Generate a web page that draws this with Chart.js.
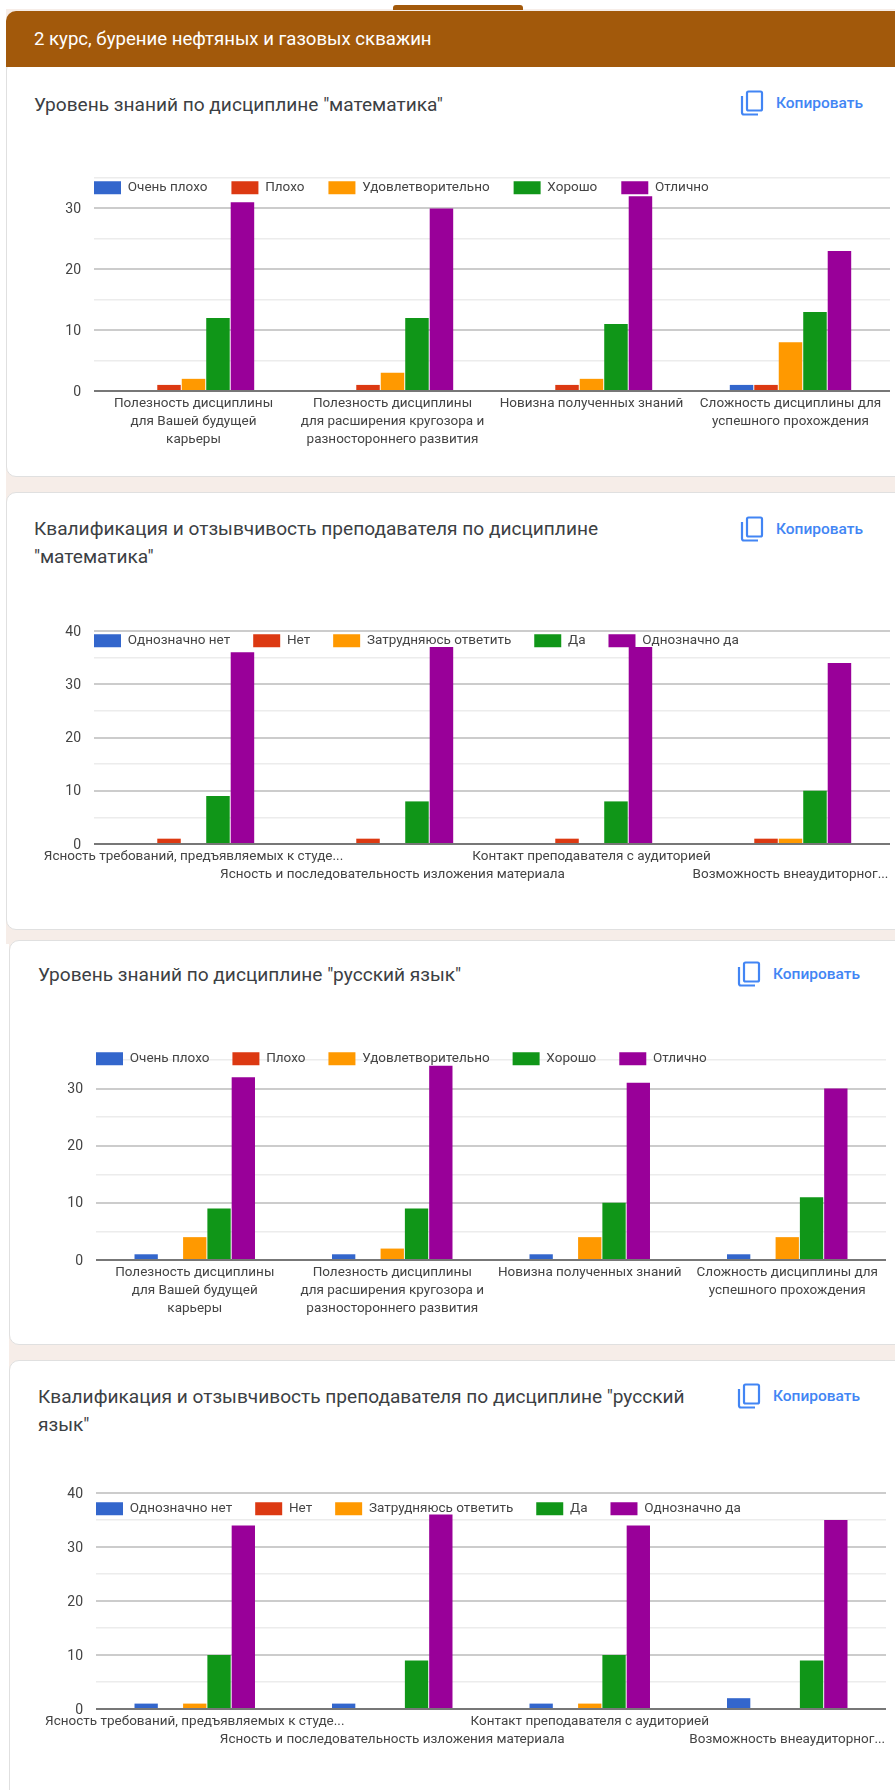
<!DOCTYPE html>
<html lang="ru">
<head>
<meta charset="utf-8">
<title>2 курс, бурение нефтяных и газовых скважин</title>
<script src="https://cdn.jsdelivr.net/npm/chart.js@4"></script>
<style>
  html, body { margin: 0; padding: 0; background: #fff; }
  #page { position: relative; width: 895px; height: 1790px; overflow: hidden; font-family: Roboto, sans-serif; }
  .bg { position: absolute; right: 0; background: #f6ede8; }
  .tab { position: absolute; left: 393px; top: 5px; width: 130px; height: 5px; background: #a2590b; border-radius: 3px 3px 0 0; }
  .card { position: absolute; right: -10px; background: #fff; border: 1px solid #e0e0e0; border-radius: 10px; box-sizing: border-box; }
  .head { position: absolute; left: 6px; right: 0; top: 11px; height: 56px; background: #a2590b; border-radius: 10px 0 0 0;
          color: #fff; font-size: 18.6px; line-height: 56px; padding-left: 28px; }
  .title { position: absolute; font-size: 19.1px; line-height: 28px; color: #3c4043; width: 700px; }
  .copy { position: absolute; color: #4285f4; font-size: 15.5px; font-weight: 500; line-height: 26px; padding-left: 36px; }
  .copy svg { position: absolute; left: 0; top: 0; }
  canvas { position: absolute; left: 0; }
</style>
</head>
<body>
<div id="page">
  <div class="bg" style="left:6px;top:9px;height:935px"></div>
  <div class="bg" style="left:9px;top:935px;height:855px"></div>
  <div class="tab"></div>
  <div class="card" style="left:6px;top:60px;height:417px"></div>
  <div class="card" style="left:6px;top:492px;height:438px"></div>
  <div class="card" style="left:9px;top:940px;height:405px"></div>
  <div class="card" style="left:9px;top:1360px;height:460px"></div>
  <div class="head">2 курс, бурение нефтяных и газовых скважин</div>
  <div id="overlay"></div>
  <canvas id="chart1"></canvas>
  <canvas id="chart2"></canvas>
  <canvas id="chart3"></canvas>
  <canvas id="chart4"></canvas>
</div>
<script>
const seriesColors = ['#3366cc', '#dc3912', '#ff9900', '#109618', '#990099'];

const knowledgeLegend = ['Очень плохо', 'Плохо', 'Удовлетворительно', 'Хорошо', 'Отлично'];
const teacherLegend = ['Однозначно нет', 'Нет', 'Затрудняюсь ответить', 'Да', 'Однозначно да'];

const knowledgeLabels = [
  ['Полезность дисциплины', 'для Вашей будущей', 'карьеры'],
  ['Полезность дисциплины', 'для расширения кругозора и', 'разностороннего развития'],
  'Новизна полученных знаний',
  ['Сложность дисциплины для', 'успешного прохождения']
];
const teacherLabels = [
  ['Ясность требований, предъявляемых к студе...', ''],
  ['', 'Ясность и последовательность изложения материала'],
  ['Контакт преподавателя с аудиторией', ''],
  ['', 'Возможность внеаудиторног...']
];

// one row per answer, one column per question
const mathKnowledge = [
  [0, 0, 0, 1],
  [1, 1, 1, 1],
  [2, 3, 2, 8],
  [12, 12, 11, 13],
  [31, 30, 32, 23]
];
const mathTeacher = [
  [0, 0, 0, 0],
  [1, 1, 1, 1],
  [0, 0, 0, 1],
  [9, 8, 8, 10],
  [36, 37, 37, 34]
];
const russianKnowledge = [
  [1, 1, 1, 1],
  [0, 0, 0, 0],
  [4, 2, 4, 4],
  [9, 9, 10, 11],
  [32, 34, 31, 30]
];
const russianTeacher = [
  [1, 1, 1, 2],
  [0, 0, 0, 0],
  [1, 0, 1, 0],
  [10, 9, 10, 9],
  [34, 36, 34, 35]
];

const CHART_FONT = 'Roboto, sans-serif';

// the legend sits on top of the plot, so it must not take layout space
const overlayLegend = {
  id: 'overlayLegend',
  beforeLayout(chart) {
    const legend = chart.legend;
    if (legend.fitPatched) return;
    const fit = legend.fit;
    legend.fit = function () { fit.call(this); this.height = 0; };
    legend.fitPatched = true;
  },
  afterLayout(chart, args, opts) {
    const legend = chart.legend;
    const pad = chart.options.plugins.legend.labels.padding;
    legend.left = chart.chartArea.left - pad;
    legend.right = chart.width;
    legend.top = chart.chartArea.top + opts.offset - pad;
    legend.height = 60;
    legend.bottom = legend.top + legend.height; // legend clips its drawing to this box
  }
};

function drawChart(id, cfg) {
  const canvas = document.getElementById(id);
  const topGap = 10, xHeight = 70;
  canvas.width = 895;
  canvas.height = cfg.bottom - cfg.top + topGap + xHeight;
  canvas.style.top = (cfg.top - topGap) + 'px';

  return new Chart(canvas, {
    type: 'bar',
    plugins: [overlayLegend],
    data: {
      labels: cfg.labels,
      datasets: cfg.names.map((name, i) => ({
        label: name,
        data: cfg.values[i],
        backgroundColor: seriesColors[i],
        borderWidth: 0,
        barPercentage: 0.96,
        categoryPercentage: 0.615
      }))
    },
    options: {
      responsive: false,
      animation: false,
      layout: { padding: { left: 0, right: 895 - cfg.right, top: topGap, bottom: 0 } },
      plugins: {
        tooltip: { enabled: false },
        overlayLegend: { offset: cfg.legendOffset },
        legend: {
          position: 'top',
          align: 'start',
          labels: {
            boxWidth: 27,
            boxHeight: 13,
            padding: cfg.legendGap || 23,
            color: '#444',
            font: { family: CHART_FONT, size: 13.5 }
          }
        }
      },
      scales: {
        x: {
          offset: true,
          grid: { display: false, drawTicks: false },
          border: { display: false },
          ticks: {
            autoSkip: false,
            maxRotation: 0,
            minRotation: 0,
            padding: 3,
            color: '#444',
            font: { family: CHART_FONT, size: 13.5, lineHeight: 1.36 }
          },
          afterFit(scale) {
            scale.height = xHeight;
            scale.paddingLeft = 0;
            scale.paddingRight = 0;
          }
        },
        y: {
          min: 0,
          max: cfg.max,
          border: { display: false },
          grid: {
            drawTicks: false,
            lineWidth: ctx => (ctx.tick.value % 10 === 0 ? 2 : 1.5),
            color: ctx => {
              if (ctx.tick.value === 0) return '#777';
              return ctx.tick.value % 10 === 0 ? '#ccc' : '#ececec';
            }
          },
          ticks: {
            stepSize: 5,
            autoSkip: false,
            padding: 13,
            labelOffset: 1,
            color: '#444',
            font: { family: CHART_FONT, size: 14 },
            callback: v => (v % 10 === 0 ? v : '')
          },
          afterFit(scale) {
            scale.width = cfg.left;
            scale.paddingTop = 0;
            scale.paddingBottom = 0;
          }
        }
      }
    }
  });
}

drawChart('chart1', { labels: knowledgeLabels, names: knowledgeLegend, values: mathKnowledge,
  left: 94, right: 890, top: 178, bottom: 391, max: 35, legendOffset: 3, legendGap: 24 });
drawChart('chart2', { labels: teacherLabels, names: teacherLegend, values: mathTeacher,
  left: 94, right: 890, top: 631, bottom: 844, max: 40, legendOffset: 3 });
drawChart('chart3', { labels: knowledgeLabels, names: knowledgeLegend, values: russianKnowledge,
  left: 96, right: 886, top: 1060, bottom: 1260, max: 35, legendOffset: -8 });
drawChart('chart4', { labels: teacherLabels, names: teacherLegend, values: russianTeacher,
  left: 96, right: 886, top: 1493, bottom: 1709, max: 40, legendOffset: 9 });

// titles and copy buttons
const cardTitles = [
  ['Уровень знаний по дисциплине "математика"', 34, 91],
  ['Квалификация и отзывчивость преподавателя по дисциплине<br>"математика"', 34, 515],
  ['Уровень знаний по дисциплине "русский язык"', 38, 961],
  ['Квалификация и отзывчивость преподавателя по дисциплине "русский<br>язык"', 38, 1383]
];
const copyButtons = [[740, 90], [740, 516], [737, 961], [737, 1383]];
const copyIcon = '<svg width="24" height="26" viewBox="0 0 24 26" fill="none" stroke="#4285f4" stroke-width="2.2">' +
  '<rect x="7" y="1.5" width="15" height="19" rx="1.5"/><path d="M2 6v16.5a2 2 0 0 0 2 2h14"/></svg>';

const overlay = document.getElementById('overlay');
cardTitles.forEach(([text, x, y]) => {
  overlay.insertAdjacentHTML('beforeend', `<div class="title" style="left:${x}px;top:${y}px">${text}</div>`);
});
copyButtons.forEach(([x, y]) => {
  overlay.insertAdjacentHTML('beforeend', `<div class="copy" style="left:${x}px;top:${y}px">${copyIcon}Копировать</div>`);
});
</script>
</body>
</html>
